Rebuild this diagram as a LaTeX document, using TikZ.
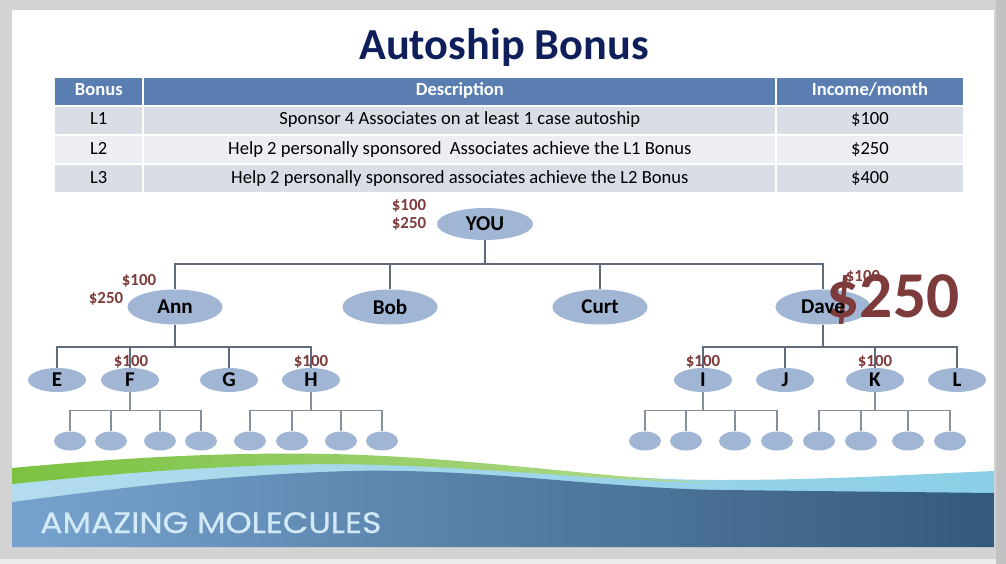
\documentclass[tikz,border=0pt]{standalone}
\usepackage{fontspec}
\setmainfont{Carlito}
\newfontfamily\logofont[FakeBold=0.6]{Poppins}
\usetikzlibrary{matrix,shapes.geometric}
\definecolor{slidegray}{HTML}{D3D3D3}
\definecolor{titleblue}{HTML}{0F1F5C}
\definecolor{headblue}{HTML}{5B7EB2}
\definecolor{rowdark}{HTML}{D9DDE6}
\definecolor{rowlight}{HTML}{ECEEF3}
\definecolor{bubble}{HTML}{A0B6D4}
\definecolor{wirecol}{HTML}{5E6B7B}
\definecolor{cash}{HTML}{7E3B3B}
\definecolor{leaf}{HTML}{7CC242}
\definecolor{sky}{HTML}{B4DCEE}
\definecolor{cyanband}{HTML}{8ACFE6}
\definecolor{deepblue}{HTML}{35597B}
\definecolor{midblue}{HTML}{76A3CE}
\definecolor{logoblue}{HTML}{D2E9F7}
\tikzset{
  cell/.style={inner sep=0pt, minimum height=0.675cm, text height=9pt, text depth=2.7pt, font=\fontsize{13.2}{15}\selectfont, text=black},
  head/.style={cell, fill=headblue, text=white, font=\fontsize{13.2}{15}\selectfont\bfseries},
  dark/.style={cell, fill=rowdark},
  light/.style={cell, fill=rowlight},
  colA/.style={minimum width=2.175cm},
  colB/.style={minimum width=15.775cm},
  colC/.style={minimum width=4.625cm},
  person/.style={ellipse, fill=bubble, inner sep=0pt, minimum width=2.375cm, minimum height=0.875cm, font=\fontsize{15}{17}\selectfont\bfseries},
  member/.style={person, minimum width=1.45cm, minimum height=0.6cm},
  dot/.style={ellipse, fill=bubble, inner sep=0pt, minimum width=0.8cm, minimum height=0.475cm},
  money/.style={text=cash, inner sep=0pt, font=\fontsize{12}{13}\selectfont\bfseries},
  wire/.style={draw=wirecol, line width=1.4pt},
  twig/.style={draw=wirecol!75, line width=1.1pt}
}

\begin{document}
\begin{tikzpicture}[x=0.025cm, y=-0.025cm]
  \useasboundingbox (0,0) rectangle (1006,564);
  % slide
  \fill[slidegray] (0,0) rectangle (1006,564);
  \fill[black!8] (0,559) rectangle (1006,564);
  \fill[black!24] (996,0) rectangle (1006,564);
  \fill[white] (12,10) rectangle (994,547);

  % swoosh at the bottom
  \shade[left color=sky, right color=cyanband] (12,483) .. controls (120,472) and (220,463) .. (330,462)
    .. controls (480,461) and (600,480) .. (720,480) .. controls (830,480) and (920,474) .. (994,471)
    -- (994,547) -- (12,547) -- cycle;
  \shade[left color=leaf, right color=leaf!60!white] (12,468) .. controls (120,458) and (220,452) .. (330,454)
    .. controls (470,457) and (600,478) .. (720,483)
    .. controls (600,481) and (470,465) .. (330,464) .. controls (220,465) and (120,473) .. (12,484) -- cycle;
  \shade[left color=midblue, right color=deepblue] (12,502) .. controls (120,488) and (220,475) .. (350,471)
    .. controls (480,468) and (600,488) .. (720,490) -- (994,493) -- (994,547) -- (12,547) -- cycle;
  \node[font=\logofont\fontsize{21}{24}\selectfont, text=logoblue, anchor=base west, inner sep=0pt] (brand) at (40,533) {\scalebox{1.12}[1]{AMAZING MOLECULES}};

  % title and table
  \node[font=\fontsize{31.5}{36}\selectfont\bfseries, text=titleblue, anchor=base] (title) at (504,60) {Autoship Bonus};
  \matrix (bonus) [anchor=north west, inner sep=0pt, row sep=0.05cm, column sep=0.05cm] at (55,77) {
    \node[head, colA] (hbonus) {Bonus}; &
    \node[head, colB] (hdesc) {Description}; &
    \node[head, colC] (hincome) {Income/month}; \\
    \node[dark, colA] (l1) {L1}; &
    \node[dark, colB] (d1) {Sponsor 4 Associates on at least 1 case autoship}; &
    \node[dark, colC] (m1) {\$100}; \\
    \node[light, colA] (l2) {L2}; &
    \node[light, colB] (d2) {Help 2 personally sponsored\ \ Associates achieve the L1 Bonus}; &
    \node[light, colC] (m2) {\$250}; \\
    \node[dark, colA] (l3) {L3}; &
    \node[dark, colB] (d3) {Help 2 personally sponsored associates achieve the L2 Bonus}; &
    \node[dark, colC] (m3) {\$400}; \\
  };

  % tree
  \node[person, minimum width=2.4cm, minimum height=0.8cm] (you) at (485,224) {YOU};
  \node[person] (ann) at (175,307) {Ann};
  \node[person] (bob) at (390,307) {Bob};
  \node[person] (curt) at (600,307) {Curt};
  \node[person] (dave) at (823,307) {};
  \foreach \name/\x in {e/57,f/130,g/229,h/311,i/703,j/785,k/875,l/957}
    \node[member] (\name) at (\x,380) {\MakeUppercase{\name}};
  \foreach \x [count=\n] in {70,111,160,201} \node[dot] (f\n) at (\x,441) {};
  \foreach \x [count=\n] in {250,292,341,382} \node[dot] (h\n) at (\x,441) {};
  \foreach \x [count=\n] in {645,686,735,777} \node[dot] (i\n) at (\x,441) {};
  \foreach \x [count=\n] in {819,861,908,950} \node[dot] (k\n) at (\x,441) {};

  \foreach \c in {ann,bob,curt,dave}
    \draw[wire] (you.south) -- ++(0,24) -| (\c.north);
  \foreach \c in {e,f,g,h}
    \draw[wire] (ann.south) -- ++(0,22.5) -| (\c.north);
  \foreach \c in {i,j,k,l}
    \draw[wire] (dave.south) -- ++(0,22.5) -| (\c.north);
  \foreach \p in {f,h,i,k}
    \foreach \n in {1,...,4}
      \draw[twig] (\p.south) -- ++(0,18) -| (\p\n.north);

  % money
  \node[money] (you100) at (409,206) {\$100};
  \node[money] (you250) at (409,224) {\$250};
  \node[money] (ann100) at (139,281) {\$100};
  \node[money] (ann250) at (106,299) {\$250};
  \node[money] (f100) at (131,362) {\$100};
  \node[money] (h100) at (311,362) {\$100};
  \node[money] (i100) at (703,362) {\$100};
  \node[money] (k100) at (875,362) {\$100};
  \node[money, font=\fontsize{46.5}{50}\selectfont\bfseries] (bigcash) at (893,300) {\$250};
  \node[money] (dave100) at (863,277) {\$100};
  \node[font=\fontsize{15}{17}\selectfont\bfseries, inner sep=0pt] (davename) at (dave) {Dave};
\end{tikzpicture}
\end{document}
